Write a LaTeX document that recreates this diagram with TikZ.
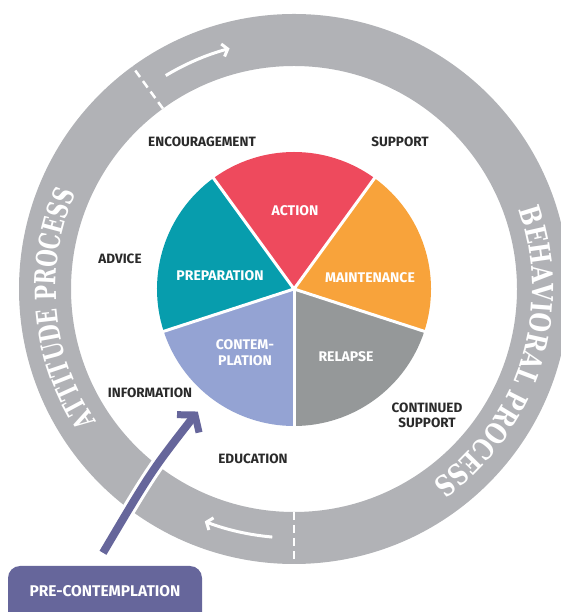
\documentclass[tikz,border=0pt]{standalone}
\usepackage{fontspec}
\setmainfont{Fira Sans}
\newfontfamily\ringfontA[FakeStretch=0.70]{DejaVu Serif}
\newfontfamily\ringfontB[FakeStretch=0.78]{DejaVu Serif}
\usetikzlibrary{decorations.text,arrows.meta,calc}
\definecolor{ringgray}{HTML}{B1B2B6}
\definecolor{actionc}{HTML}{EE4A5D}
\definecolor{maintc}{HTML}{F8A33B}
\definecolor{relapsec}{HTML}{959899}
\definecolor{contempc}{HTML}{94A3D3}
\definecolor{prepc}{HTML}{079DAD}
\definecolor{purplec}{HTML}{66669B}
\definecolor{darktext}{HTML}{2A2A2A}
\begin{document}
\begin{tikzpicture}[x=1pt,y=1pt,
  lab/.style={text=darktext,font=\bfseries\fontsize{13.5}{15}\selectfont,align=center,inner sep=0pt},
  pielab/.style={text=white,font=\bfseries\fontsize{14}{16}\selectfont,align=center,inner sep=0pt},
  ringdash/.style={white,line width=2.5pt,dash pattern=on 8pt off 5pt},
  ringarrow/.style={white,line width=3pt,-{Straight Barb[length=5pt,width=13pt]}},
  sepline/.style={white,line width=3pt},
  prebox/.style={fill=purplec,rounded corners=12pt,text=white,font=\bfseries\fontsize{15.5}{15.5}\selectfont,
    minimum width=194pt,inner xsep=0pt,inner ysep=0pt,text height=31pt,text depth=30pt},
  ringtext/.style={decorate,decoration={text along path,text color=white,text align=center}}
]
\clip (0,0) rectangle (561,612);
\coordinate (C) at (294,323);
% outer ring
\fill[ringgray,even odd rule] (C) circle (275) (C) circle (223);
\draw[ringdash] (C) ++(126:223) -- ++(126:52);
\draw[ringdash] (C) ++(270:223) -- ++(270:52);
\draw[ringarrow] (C) ++(121:249) arc[start angle=121,end angle=105,radius=249];
\draw[ringarrow] (C) ++(265:249) arc[start angle=265,end angle=249,radius=249];
% ring texts
\path[ringtext,decoration={text={|\ringfontA\bfseries\fontsize{29}{31}\selectfont|ATTITUDE PROCESS}}]
  (C) ++(240:238) arc[start angle=240,end angle=130,radius=238];
\path[ringtext,decoration={text={|\ringfontB\bfseries\fontsize{29}{31}\selectfont|BEHAVIORAL PROCESS}}]
  (C) ++(50:238) arc[start angle=50,end angle=-85,radius=238];
% pie
\fill[actionc] (C) -- ++(54:137) arc[start angle=54,end angle=126,radius=137] -- cycle;
\fill[prepc] (C) -- ++(126:137) arc[start angle=126,end angle=198,radius=137] -- cycle;
\fill[contempc] (C) -- ++(198:137) arc[start angle=198,end angle=270,radius=137] -- cycle;
\fill[relapsec] (C) -- ++(270:137) arc[start angle=270,end angle=342,radius=137] -- cycle;
\fill[maintc] (C) -- ++(-18:137) arc[start angle=-18,end angle=54,radius=137] -- cycle;
\foreach \a in {54,126,198,270,342} \draw[sepline] (C) -- ++(\a:139);
% pie labels
\node[pielab] (action) at (295,401) {ACTION};
\node[pielab] (maintenance) at (370,334) {MAINTENANCE};
\node[pielab] (relapse) at (346,255) {RELAPSE};
\node[pielab] (contemplation) at (245,259) {CONTEM-\\PLATION};
\node[pielab] (preparation) at (220,336) {PREPARATION};
% purple arrow
\node[prebox,anchor=base] (pre) at (105,15) {PRE-CONTEMPLATION};
\coordinate (arrowstart) at ($(pre.north)+(-2,13)$);
\coordinate (arrowtip) at (195,197);
\draw[white,line width=14pt] (arrowstart) .. controls (152,142) .. (arrowtip);
\draw[purplec,line width=8pt] (arrowstart) .. controls (152,142) .. (arrowtip);
\draw[purplec,line width=7pt,miter limit=10] (arrowtip) ++(179:18) -- (arrowtip) -- ++(283:18);
% outside labels
\node[lab] (encouragement) at (202,470) {ENCOURAGEMENT};
\node[lab] (support) at (400,470) {SUPPORT};
\node[lab] (advice) at (120,353) {ADVICE};
\node[lab] (information) at (150,219) {INFORMATION};
\node[lab] (continued) at (427,197) {CONTINUED\\SUPPORT};
\node[lab] (education) at (253,153) {EDUCATION};
\end{tikzpicture}
\end{document}
